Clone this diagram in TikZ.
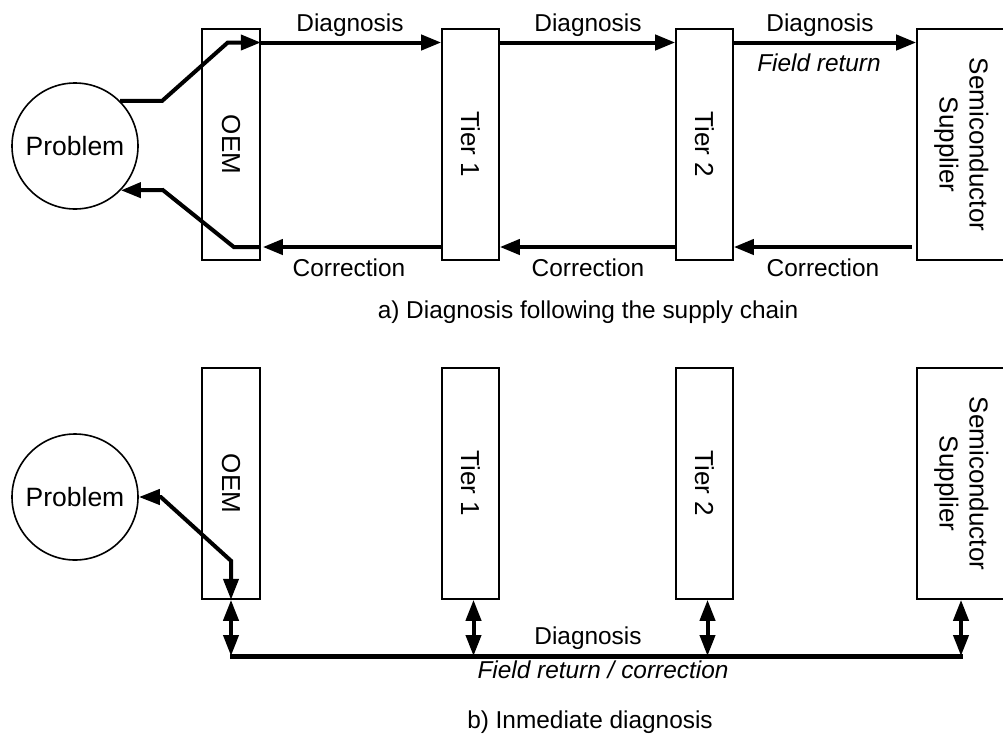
\documentclass[tikz,border=0pt]{standalone}
\usepackage{fontspec}
\setmainfont{Liberation Sans}
\usetikzlibrary{arrows.meta}

\tikzset{
  actor/.style={draw, line width=1.6pt, minimum width=57pt, minimum height=231pt,
    inner sep=0pt, font=\fontsize{26}{32}\selectfont, align=center},
  actorlabel/.style={rotate=-90},
  problem/.style={draw, circle, line width=1.6pt, minimum size=126pt, inner sep=0pt,
    font=\fontsize{26.5}{32}\selectfont},
  flow/.style={line width=4pt, -{Triangle[length=20pt,width=15pt]}},
  link/.style={line width=4pt},
  both/.style={line width=4pt, {Triangle[length=21pt,width=15pt]}-{Triangle[length=21pt,width=15pt]}},
  lbl/.style={inner sep=0pt, font=\fontsize{24.4}{29}\selectfont},
  ilbl/.style={lbl, font=\fontsize{24.4}{29}\selectfont\itshape},
}

\begin{document}
\begin{tikzpicture}[x=1pt, y=-1pt]
\useasboundingbox (0,0) rectangle (1003,736);

% ---------- a) diagnosis following the supply chain ----------
\node[problem] (P) at (75,146) {Problem};
\node[actor, minimum width=58pt] (OEM) at (231,144.5) {\rotatebox{-90}{OEM}};
\node[actor] (T1) at (470.5,144.5) {\rotatebox{-90}{Tier 1}};
\node[actor] (T2) at (704.5,144.5) {\rotatebox{-90}{Tier 2}};
\node[actor, minimum width=88pt] (S) at (961,144.5)
  {\rotatebox{-90}{\begin{tabular}{@{}c@{}}Semiconductor\\[-2pt]Supplier\end{tabular}}};

\coordinate (ya) at (0,42.5);
\coordinate (yb) at (0,247);

% forward (diagnosis) path
\draw[flow] (P.45) -- ++(42,0) -- ([xshift=-33pt]OEM.east |- ya) -- (OEM.east |- ya);
\draw[flow] (OEM.east |- ya) -- (T1.west |- ya);
\draw[flow] (T1.east |- ya) -- (T2.west |- ya);
\draw[flow] (T2.east |- ya) -- (S.west |- ya);

% backward (correction) path
\draw[flow] ([xshift=-4pt]S.west |- yb) -- (T2.east |- yb);
\draw[flow] (T2.west |- yb) -- (T1.east |- yb);
\draw[flow] (T1.west |- yb) -- ([xshift=2pt]OEM.east |- yb);
\draw[flow] (OEM.east |- yb) -- ([xshift=-27pt]OEM.east |- yb) -- ++(-71,-57) -- (P.-44);

\node[lbl] (d1) at (350,25) {Diagnosis};
\node[lbl] (d2) at (588,25) {Diagnosis};
\node[lbl] (d3) at (820,25) {Diagnosis};
\node[ilbl] (fr) at (819,63) {Field return};
\node[lbl] (c1) at (349,268) {Correction};
\node[lbl] (c2) at (588,268) {Correction};
\node[lbl] (c3) at (823,268) {Correction};
\node[lbl] (capa) at (588,312) {a) Diagnosis following the supply chain};

% ---------- b) immediate diagnosis ----------
\node[problem] (P2) at (75,497) {Problem};
\node[actor, minimum width=58pt] (OEM2) at (231,483.5) {\rotatebox{-90}{OEM}};
\node[actor] (T1b) at (470.5,483.5) {\rotatebox{-90}{Tier 1}};
\node[actor] (T2b) at (704.5,483.5) {\rotatebox{-90}{Tier 2}};
\node[actor, minimum width=88pt] (S2) at (961,483.5)
  {\rotatebox{-90}{\begin{tabular}{@{}c@{}}Semiconductor\\[-2pt]Supplier\end{tabular}}};

\coordinate (bus) at (0,656);

% common diagnosis bus
\draw[line width=5pt] ([xshift=-1pt]OEM2.south |- bus) -- ([xshift=2pt]S2.south |- bus);

\draw[both] (OEM2.south) -- (OEM2.south |- bus);
\draw[both] ([xshift=3pt]T1b.south) -- ([xshift=3pt]T1b.south |- bus);
\draw[both] ([xshift=3pt]T2b.south) -- ([xshift=3pt]T2b.south |- bus);
\draw[both] (S2.south) -- (S2.south |- bus);

% problem link to the OEM
\draw[both] (P2.east) -- ++(22,0) -- ([yshift=39pt]OEM2.south) -- (OEM2.south);

\node[lbl] (d4) at (588,638) {Diagnosis};
\node[ilbl] (fr2) at (603,670) {Field return / correction};
\node[lbl] (capb) at (590,722) {b) Inmediate diagnosis};
\end{tikzpicture}
\end{document}
